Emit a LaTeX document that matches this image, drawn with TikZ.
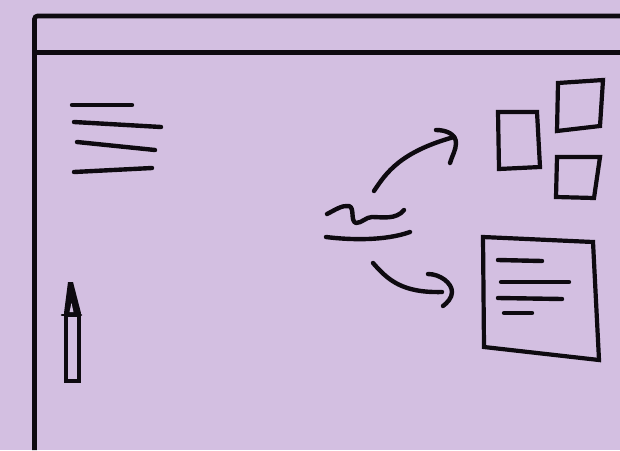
\documentclass[tikz,border=0pt]{standalone}
\usepackage{xcolor}
\usetikzlibrary{calc}
\definecolor{paperlilac}{RGB}{211,191,225}
\definecolor{inkblack}{RGB}{14,10,16}

\begin{document}
\begin{tikzpicture}[
  x=1pt,y=-1pt,
  frameline/.style={draw=inkblack,line width=4.6pt},
  ink/.style={draw=inkblack,line width=4.4pt,line cap=round,line join=round},
  thinink/.style={draw=inkblack,line width=4.2pt,line cap=round,line join=miter}
]
\useasboundingbox (0,0) rectangle (620,450);
\fill[paperlilac] (0,0) rectangle (620,450);

% window frame
\draw[frameline,rounded corners=3pt] (34.5,450) -- (34.5,16) -- (620,16);
\draw[frameline] (34.5,52.5) -- (620,52.5);

% text lines, left
\draw[ink] (72,105) -- (132,105);
\draw[ink] (74,122) -- (161,127);
\draw[ink] (77,142) -- (155,150);
\draw[ink] (74,172) -- (152,168);

% pencil
\draw[thinink] (66,315) rectangle (79,381);
\draw[thinink,line width=2.6pt] (62,315) -- (81,315);
\fill[inkblack] (68,282) -- (73,282) -- (81,313) -- (64,313) -- cycle;
\fill[paperlilac] (71.5,303) -- (73.5,312) -- (69.5,312) -- cycle;

% small squares
\draw[thinink] (498,112) -- (537,112) -- (540,167) -- (499,169) -- cycle;
\draw[thinink] (558,83) -- (603,80) -- (600,126) -- (557,131) -- cycle;
\draw[thinink] (557,157) -- (600,157) -- (594,198) -- (556,197) -- cycle;

% document
\draw[thinink] (483,237) -- (593,242) -- (599,360) -- (484,347) -- cycle;
\draw[ink] (498,260) -- (542,261);
\draw[ink] (501,282) -- (569,282);
\draw[ink] (498,298) -- (562,299);
\draw[ink] (504,313) -- (532,313);

% scribble and underline
\draw[ink] (327,214) .. controls (335,210) and (342,205) .. (349,206)
  .. controls (355,208) and (350,221) .. (356,223)
  .. controls (362,223) and (366,217) .. (372,217)
  .. controls (382,217) and (396,220) .. (404,210);
\draw[ink] (326,237) .. controls (350,240) and (385,241) .. (410,232);

% curved arrows
\draw[ink] (374,191) .. controls (386,173) and (400,152) .. (454,137);
\draw[ink] (436,130) .. controls (446,130) and (456,134) .. (456,143)
  .. controls (456,150) and (452,156) .. (450,163);
\draw[ink] (373,263) .. controls (388,280) and (402,293) .. (442,292);
\draw[ink] (428,274) .. controls (440,274) and (452,283) .. (452,292)
  .. controls (452,298) and (447,303) .. (443,306);
\end{tikzpicture}
\end{document}
